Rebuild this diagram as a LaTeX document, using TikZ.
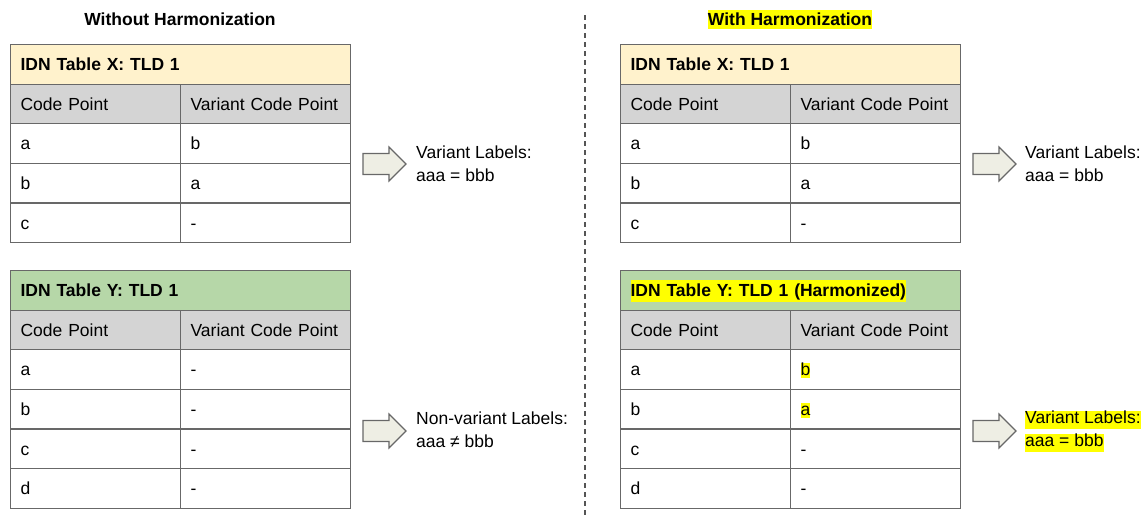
\documentclass[tikz,border=0pt]{standalone}
\usepackage{fontspec}
\setmainfont{Liberation Sans}
\definecolor{hdrx}{HTML}{FFF2CC}
\definecolor{hdry}{HTML}{B6D7A8}
\definecolor{colhd}{HTML}{D4D4D4}
\definecolor{bord}{HTML}{686868}
\definecolor{arrfill}{HTML}{EEEEE4}
\definecolor{hly}{HTML}{FFFF00}
\definecolor{divc}{HTML}{555555}
\newcommand\hlbox[3]{{\setlength\fboxsep{0pt}\colorbox{hly}{\rule[-#1]{0pt}{#2}#3}}}
\newcommand\idntab[6]{%
  \node[hdrcell, fill=#4] (#1h) at (#2,#3) {#5};
  \node[cell, fill=colhd] (#1c1) at (#2,#3+39.6) {Code Point};
  \node[cell, fill=colhd] (#1c2) at (#2+170,#3+39.6) {Variant Code Point};
  \foreach \p/\q [count=\i] in {#6} {
    \node[cell] (#1r\i-a) at (#2,#3+39.6+39.6*\i) {\p};
    \node[cell] (#1r\i-b) at (#2+170,#3+39.6+39.6*\i) {\q};
  }%
}
\begin{document}
\begin{tikzpicture}[x=1pt,y=-1pt,
  every node/.style={inner sep=0pt, font=\fontsize{17.5}{23}\selectfont},
  cell/.style={draw=bord, line width=1.2pt, rectangle, anchor=north west,
    minimum height=39.6pt, text width=150pt, inner xsep=10pt, inner ysep=0pt,
    align=left, text height=12.6pt, text depth=0pt},
  hdrcell/.style={cell, text width=320pt, font=\fontsize{17.5}{23}\selectfont\bfseries},
  titlesty/.style={anchor=base, font=\fontsize{17.5}{23}\selectfont\bfseries},
  lbl/.style={anchor=west, align=left},
  fatarrow/.style={draw=bord, fill=arrfill, line width=1.1pt, line join=miter},
  divider/.style={draw=divc, line width=1.3pt, dash pattern=on 5pt off 4pt}]
\useasboundingbox (0,0) rectangle (1146,515);
\fill[white] (0,0) rectangle (1146,515);

% titles
\node[titlesty] (ttl) at (180,25) {Without Harmonization};
\node[titlesty] (ttr) at (790,25) {\hlbox{3.5pt}{19pt}{With Harmonization}};

% divider
\coordinate (dtop) at (585,15);
\coordinate (dbot) at (585,515);
\draw[divider] (dtop) -- (dbot);

% tables
\idntab{LX}{10}{44}{hdrx}{IDN Table X: TLD 1}{a/b, b/a, c/-}
\idntab{LY}{10}{270}{hdry}{IDN Table Y: TLD 1}{a/-, b/-, c/-, d/-}
\idntab{RX}{620}{44}{hdrx}{IDN Table X: TLD 1}{a/b, b/a, c/-}
\idntab{RY}{620}{270}{hdry}{\hlbox{5pt}{22pt}{IDN Table Y: TLD 1 (Harmonized)}}{a/\hlbox{2pt}{15pt}{b}, b/\hlbox{2pt}{15pt}{a}, c/-, d/-}

% arrows
\foreach \nm/\cx/\cy in {LXarr/384.5/164, LYarr/384.5/431, RXarr/994.5/164, RYarr/994.5/431} {
  \coordinate (\nm) at (\cx,\cy);
  \draw[fatarrow] (\nm) ++(-21.5,-10.5) -- ++(26,0) -- ++(0,-6.5) -- ++(17,17)
    -- ++(-17,17) -- ++(0,-6.5) -- ++(-26,0) -- cycle;
}

% result labels
\node[lbl] (LXlab) at (416,164) {Variant Labels:\\aaa = bbb};
\node[lbl] (LYlab) at (416,430) {Non-variant Labels:\\aaa ≠ bbb};
\node[lbl] (RXlab) at (1025,164) {Variant Labels:\\aaa = bbb};
\node[lbl] (RYlab) at (1025,431) {\hlbox{5pt}{18pt}{Variant Labels:}\\\hlbox{5pt}{18pt}{aaa = bbb}};
\end{tikzpicture}
\end{document}
